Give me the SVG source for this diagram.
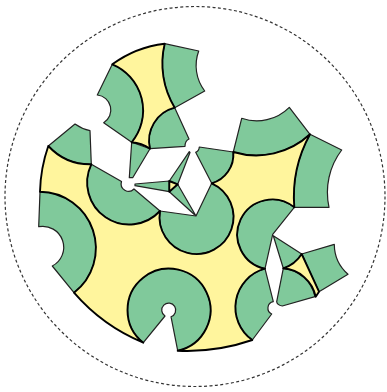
<svg xmlns="http://www.w3.org/2000/svg" width="387" height="392" viewBox="0 0 387 392">
<style>
.g{fill:#80c99b;stroke:#222;stroke-width:1.2;stroke-linejoin:round}
.y{fill:#fff59d;stroke:#000;stroke-width:1.9;stroke-linejoin:round}
.o{fill:none;stroke:#333;stroke-width:1.2;stroke-dasharray:3 2.4}
</style>
<rect width="387" height="392" fill="#fff"/>
<circle class="o" cx="195" cy="196.5" r="190"/>
<g id="top-cluster">
<path id="t1" class="g" d="M112.3 64.3A50 50 0 0 1 131.7 142.3L103.7 122.7A15 15 0 0 0 97.3 95Z"/>
<path id="t2" class="g" d="M164.7 43.7L198.7 51A42 42 0 0 0 204.7 91L174.7 107.7A85 85 0 0 1 164.7 43.7Z"/>
<path id="t3" class="g" d="M174.7 107.7L189 139Q185 141 185 146.3L150 148.7A34 34 0 0 1 174.7 107.7Z"/>
<path id="t4" class="g" d="M131.7 142.3L150 148.7L132.7 177.7L129.3 177.7Z"/>
<path id="t5" class="y" d="M112.3 64.3A110 110 0 0 1 164.7 43.7A85 85 0 0 0 174.7 107.7A34 34 0 0 0 150 148.7A40 40 0 0 0 131.7 142.3A50 50 0 0 0 112.3 64.3Z"/>
</g>
<g id="center-cluster">
<path id="c1" class="g" d="M135 184L169.3 181L169.3 191.7L135 185.7Z"/>
<path id="c2" class="g" d="M189.3 151.7L190 152.5L177.7 184.3L169.3 181Z"/>
<path id="c3" class="g" d="M177.7 184.3L196 216L169.3 191.7Z"/>
<path id="c4" class="y" d="M169.3 181L177.7 184.3L169.3 191.7Z"/>
</g>
<g id="main-cluster">
<path id="m1" class="g" d="M48.3 146L75 124Q82 129 90 130.7L91.3 164.3A57 57 0 0 1 48.3 146Z"/>
<path id="m2" class="g" d="M40 191.7L38.7 226.7A21 21 0 0 1 52.3 266L74 292.7A56.4 56.4 0 0 0 40 191.7Z"/>
<path id="m3" class="g" d="M91.3 164.3L121.5 181.5A7.5 7.5 0 0 0 134 189L160 211A42 42 0 0 1 91.3 164.3Z"/>
<path id="m4" class="g" d="M160 211L196 216L211.7 183.3A37 37 0 1 1 160 211Z"/>
<path id="m5" class="g" d="M165 316L143.3 342.7A41.5 41.5 0 1 1 177.7 350.7L171 316.7A7 7 0 1 0 165 316Z"/>
<path id="m6" class="g" d="M199.3 147L233.3 152A30 30 0 0 1 211.7 183.3L195.7 152.3Q199 151 199.3 147Z"/>
<path id="m7" class="g" d="M233.3 152L241.7 118.3A46 46 0 0 0 289.3 107.3L310 134.3A79 79 0 0 1 233.3 152Z"/>
<path id="m8" class="g" d="M310 134.3L341.7 150A70 70 0 0 0 329 207.3L294.3 207.3A130 130 0 0 1 310 134.3Z"/>
<path id="m9" class="g" d="M272.7 234.3L294.3 207.3A35 35 0 1 0 265 268.7Z"/>
<path id="m10" class="g" d="M273.3 301.7L265 268.7A40 40 0 0 0 252.3 340L271.7 314A6.5 6.5 0 0 1 273.3 301.7Z"/>
<path id="m11" class="y" d="M48.3 146A57 57 0 0 0 91.3 164.3A42 42 0 0 0 160 211A37 37 0 1 0 211.7 183.3A30 30 0 0 0 233.3 152A79 79 0 0 0 310 134.3A130 130 0 0 0 294.3 207.3A35 35 0 1 0 265 268.7A40 40 0 0 0 252.3 340A200 200 0 0 1 177.7 350.7A41.5 41.5 0 1 0 143.3 342.7A185 185 0 0 1 74 292.7A56.4 56.4 0 0 0 40 191.7A150 150 0 0 1 48.3 146Z"/>
</g>
<g id="right-cluster">
<path id="r1" class="g" d="M273.3 235.7L301.7 254A34 34 0 0 1 283.3 268.3Z"/>
<path id="r2" class="g" d="M283.3 268.3A36 36 0 0 1 315 296.7L282.3 306Q277 305 276.7 301.7Z"/>
<path id="r3" class="g" d="M301.7 254L334.3 244.3A40 40 0 0 0 348 274.3L319 291.7Z"/>
<path id="r4" class="y" d="M301.7 254L319 291.7L315.7 296.7A36 36 0 0 0 283.3 268.3A34 34 0 0 0 301.7 254Z"/>
</g>
</svg>
